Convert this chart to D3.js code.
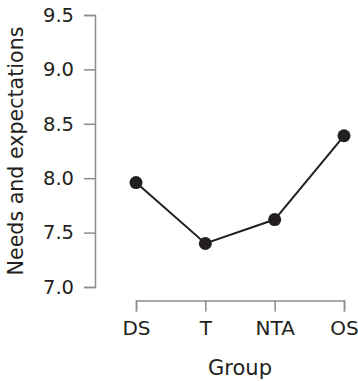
<!DOCTYPE html>
<html>
<head>
<meta charset="utf-8">
<script src="https://cdn.jsdelivr.net/npm/d3@7"></script>
<style>
  body { margin: 0; background: #fff; }
  text { font-family: "DejaVu Sans", sans-serif; fill: #231f20; }
</style>
</head>
<body>
<svg id="chart" width="358" height="382"></svg>
<script>
// Data
let groups = ["DS", "T", "NTA", "OS"]
let scores = [7.96, 7.40, 7.62, 8.39]
let yTicks = [7.0, 7.5, 8.0, 8.5, 9.0, 9.5]

let svg = d3.select("#chart")
let axisColor = "#8c8c8c"
let ink = "#231f20"
let fontFam = "'DejaVu Sans', sans-serif"

let x = d3.scalePoint().domain(groups).range([136, 344])
let y = d3.scaleLinear().domain([7.0, 9.5]).range([287, 15])

// y axis
let yAxis = svg.append("g")
    .attr("transform", "translate(95,0)")
    .call(d3.axisLeft(y).tickValues(yTicks).tickFormat(d3.format(".1f")).tickSizeOuter(0).tickSize(11).tickPadding(10))
yAxis.select(".domain").attr("stroke", axisColor).attr("stroke-width", 1.5)
yAxis.selectAll(".tick line").attr("stroke", axisColor).attr("stroke-width", 1.5)
yAxis.selectAll(".tick text").attr("font-size", 19.5).attr("fill", ink)
    .style("font-family", fontFam)

// x axis
let xAxis = svg.append("g")
    .attr("transform", "translate(0,300.5)")
    .call(d3.axisBottom(x).tickSizeOuter(0).tickSize(11).tickPadding(9))
xAxis.select(".domain").attr("stroke", axisColor).attr("stroke-width", 1.5)
xAxis.selectAll(".tick line").attr("stroke", axisColor).attr("stroke-width", 1.5)
xAxis.selectAll(".tick text").attr("font-size", 20).attr("fill", ink)
    .style("font-family", fontFam)

// axis titles
svg.append("text")
    .attr("x", 240).attr("y", 375)
    .attr("text-anchor", "middle")
    .attr("font-size", 21)
    .text("Group")

svg.append("text")
    .attr("transform", "translate(23,151) rotate(-90)")
    .attr("text-anchor", "middle")
    .attr("font-size", 20.6)
    .text("Needs and expectations")

// line + points
let line = d3.line().x((d, i) => x(groups[i])).y(d => y(d))
svg.append("path")
    .attr("d", line(scores))
    .attr("fill", "none")
    .attr("stroke", ink)
    .attr("stroke-width", 2)

svg.selectAll("circle")
    .data(scores)
    .enter()
    .append("circle")
    .attr("cx", (d, i) => x(groups[i]))
    .attr("cy", d => y(d))
    .attr("r", 6.5)
    .attr("fill", ink)
</script>
</body>
</html>
